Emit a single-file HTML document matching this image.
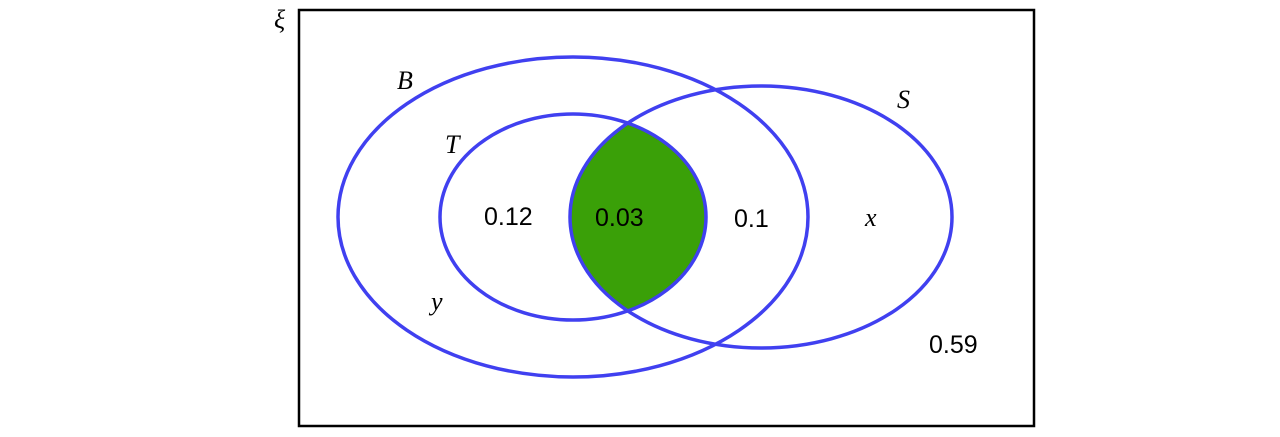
<!DOCTYPE html>
<html><head><style>
html,body{margin:0;padding:0;background:#fff;}
svg{display:block;}
text{font-family:"Liberation Serif","DejaVu Serif",serif;font-size:26px;fill:#000;}
.n{font-family:"Liberation Sans","DejaVu Sans",sans-serif;font-size:25px;}
</style></head><body>
<svg width="1280" height="437" viewBox="0 0 1280 437" xmlns="http://www.w3.org/2000/svg">
<defs><clipPath id="t"><ellipse cx="573" cy="217" rx="133" ry="103"/></clipPath></defs>
<rect x="299" y="10" width="735" height="416" fill="none" stroke="#000" stroke-width="2.5"/>
<ellipse cx="761" cy="217" rx="191" ry="131" fill="#3aa008" clip-path="url(#t)"/>
<g fill="none" stroke="#4040f0" stroke-width="3.5">
<ellipse cx="573" cy="217" rx="235" ry="160"/>
<ellipse cx="573" cy="217" rx="133" ry="103"/>
<ellipse cx="761" cy="217" rx="191" ry="131"/>
</g>
<text x="274" y="28" font-style="italic">ξ</text>
<text x="397" y="89" font-style="italic">B</text>
<text x="445" y="153" font-style="italic">T</text>
<text x="897" y="108" font-style="italic">S</text>
<text x="431" y="310" font-style="italic">y</text>
<text x="865" y="226" font-style="italic">x</text>
<text class="n" x="484" y="225">0.12</text>
<text class="n" x="595" y="226">0.03</text>
<text class="n" x="734" y="227">0.1</text>
<text class="n" x="929" y="353">0.59</text>
</svg>
</body></html>
